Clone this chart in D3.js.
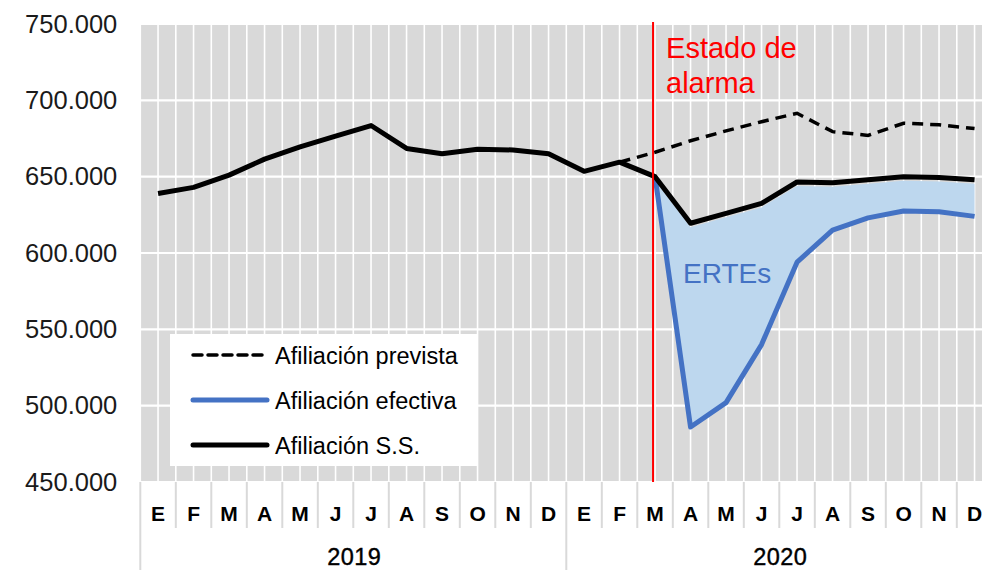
<!DOCTYPE html>
<html>
<head>
<meta charset="utf-8">
<script src="https://cdn.jsdelivr.net/npm/d3@7"></script>
<style>
  body { margin: 0; background: #fff; }
  svg { display: block; }
</style>
</head>
<body>
<svg id="chart" width="982" height="570"></svg>
<script>
// data
var monthLabels = ['E','F','M','A','M','J','J','A','S','O','N','D','E','F','M','A','M','J','J','A','S','O','N','D'];
var yearLabels = ['2019', '2020'];
var afiliacionSS = [639000, 643000, 651000, 661500, 669500, 676500, 683500, 668500, 665000, 668000, 667500, 665000,
                    653500, 659500, 650000, 619500, 626000, 632500, 646500, 646000, 648000, 650000, 649500, 648000];
var afiliacionPrevista = [null, null, null, null, null, null, null, null, null, null, null, null,
                          null, 659500, 666000, 673500, 680000, 686000, 691500, 679500, 677000, 685000, 684000, 681500];
var afiliacionEfectiva = [null, null, null, null, null, null, null, null, null, null, null, null,
                          null, null, 650000, 486000, 502000, 540000, 594000, 615000, 623000, 627500, 627000, 624000];
var yTicks = [450000, 500000, 550000, 600000, 650000, 700000, 750000];
var alarmaIndex = 14;

var svg = d3.select('#chart');
var plotLeft = 140.3, step = 35.5, plotTop = 24, plotBottom = 482;
var font = 'Liberation Sans, Arial, sans-serif';

var x = d3.scaleBand().domain(d3.range(monthLabels.length))
    .range([plotLeft, plotLeft + step * monthLabels.length]).padding(0);
var y = d3.scaleLinear().domain([450000, 750000]).range([plotBottom, plotTop]);
var cx = function (i) { return x(i) + x.bandwidth() / 2; };

var es = d3.formatLocale({ decimal: ',', thousands: '.', grouping: [3], currency: ['', '€'] });
var fmt = es.format(',.0f');

// plot background
svg.append('rect').attr('x', plotLeft).attr('y', plotTop)
    .attr('width', x.range()[1] - plotLeft).attr('height', plotBottom - plotTop)
    .attr('fill', '#d9d9d9');

// vertical gridlines at every half month
var vGrid = [];
d3.range(monthLabels.length).forEach(function (i) { vGrid.push(x(i)); vGrid.push(cx(i)); });
svg.append('g').selectAll('line').data(vGrid).join('line')
    .attr('x1', function (d) { return d; }).attr('x2', function (d) { return d; })
    .attr('y1', plotTop).attr('y2', plotBottom)
    .attr('stroke', '#fff').attr('stroke-width', 1.6);

// horizontal gridlines
svg.append('g').selectAll('line').data(yTicks).join('line')
    .attr('x1', plotLeft).attr('x2', x.range()[1])
    .attr('y1', function (d) { return y(d); }).attr('y2', function (d) { return y(d); })
    .attr('stroke', '#fff').attr('stroke-width', 2.2);

// ERTEs area between efectiva and S.S.
var areaData = d3.range(monthLabels.length).filter(function (i) { return afiliacionEfectiva[i] != null; });
svg.append('path').datum(areaData)
    .attr('fill', '#bdd7ee')
    .attr('d', d3.area().x(function (i) { return cx(i); })
        .y0(function (i) { return y(afiliacionEfectiva[i]); })
        .y1(function (i) { return y(afiliacionSS[i]) + 4; }));

function seriesLine(values) {
    return d3.line().defined(function (i) { return values[i] != null; })
        .x(function (i) { return cx(i); })
        .y(function (i) { return y(values[i]); });
}
var idx = d3.range(monthLabels.length);

svg.append('path').datum(idx)
    .attr('fill', 'none').attr('stroke', '#000').attr('stroke-width', 3.5)
    .attr('stroke-dasharray', '11,7')
    .attr('d', seriesLine(afiliacionPrevista));

svg.append('path').datum(idx)
    .attr('fill', 'none').attr('stroke', '#4472c4').attr('stroke-width', 5)
    .attr('stroke-linejoin', 'round')
    .attr('d', seriesLine(afiliacionEfectiva));

svg.append('path').datum(idx)
    .attr('fill', 'none').attr('stroke', '#000').attr('stroke-width', 5)
    .attr('stroke-linejoin', 'round')
    .attr('d', seriesLine(afiliacionSS));

// estado de alarma
var ax = cx(alarmaIndex) - 2;
svg.append('line').attr('x1', ax).attr('x2', ax).attr('y1', plotTop - 2).attr('y2', plotBottom)
    .attr('stroke', '#ff0000').attr('stroke-width', 2);
var alarma = svg.append('text').attr('x', ax + 13).attr('y', 58)
    .attr('font-family', font).attr('font-size', 29)
    .attr('fill', '#ff0000');
alarma.append('tspan').text('Estado de');
alarma.append('tspan').attr('x', ax + 13).attr('dy', 35).text('alarma');

svg.append('text').attr('x', 683).attr('y', 283)
    .attr('font-family', font).attr('font-size', 28)
    .attr('fill', '#4472c4').text('ERTEs');

// y axis
var yAxis = svg.append('g').attr('transform', 'translate(' + (plotLeft - 23) + ',0)')
    .call(d3.axisLeft(y).tickValues(yTicks).tickFormat(fmt).tickSize(0).tickPadding(0));
yAxis.select('.domain').remove();
yAxis.selectAll('text')
    .attr('font-family', font).attr('font-size', 25.5)
    .attr('fill', '#1a1a1a');

// x axis: months and years
var xAxis = svg.append('g').attr('transform', 'translate(0,' + plotBottom + ')')
    .call(d3.axisBottom(x).tickFormat(function (i) { return monthLabels[i]; }).tickSize(0).tickPadding(0));
xAxis.select('.domain').remove();
xAxis.selectAll('text')
    .attr('dy', null).attr('y', 39)
    .attr('font-family', font).attr('font-size', 21)
    .attr('font-weight', 'bold').attr('fill', '#000');

var sep = d3.range(monthLabels.length + 1).map(function (i) { return plotLeft + i * step; });
svg.append('g').selectAll('line').data(sep).join('line')
    .attr('x1', function (d) { return d; }).attr('x2', function (d) { return d; })
    .attr('y1', plotBottom)
    .attr('y2', function (d, i) { return i % 12 === 0 ? 570 : 528; })
    .attr('stroke', '#d9d9d9').attr('stroke-width', 2);

svg.append('g').selectAll('text').data(yearLabels).join('text')
    .attr('x', function (d, i) { return plotLeft + (i * 12 + 6) * step + 1; })
    .attr('y', 565).attr('text-anchor', 'middle')
    .attr('font-family', font).attr('font-size', 23.5)
    .attr('stroke', '#000').attr('stroke-width', 0.4)
    .attr('letter-spacing', 0.5).attr('fill', '#000')
    .text(function (d) { return d; });

// legend
var legend = svg.append('g');
legend.append('rect').attr('x', 170).attr('y', 334).attr('width', 308).attr('height', 132).attr('fill', '#fff');
var legendItems = [
    { label: 'Afiliación prevista', color: '#000', width: 3.5, dash: '9,6' },
    { label: 'Afiliación efectiva', color: '#4472c4', width: 5, dash: null },
    { label: 'Afiliación S.S.', color: '#000', width: 5, dash: null }
];
legendItems.forEach(function (d, i) {
    var ly = 355 + i * 45;
    legend.append('line').attr('x1', 193).attr('x2', 267).attr('y1', ly).attr('y2', ly)
        .attr('stroke', d.color).attr('stroke-width', d.width)
        .attr('stroke-linecap', 'round')
        .attr('stroke-dasharray', d.dash);
    legend.append('text').attr('x', 275).attr('y', ly + 9)
        .attr('font-family', font).attr('font-size', 23.5)
        .attr('fill', '#000').text(d.label);
});
</script>
</body>
</html>
